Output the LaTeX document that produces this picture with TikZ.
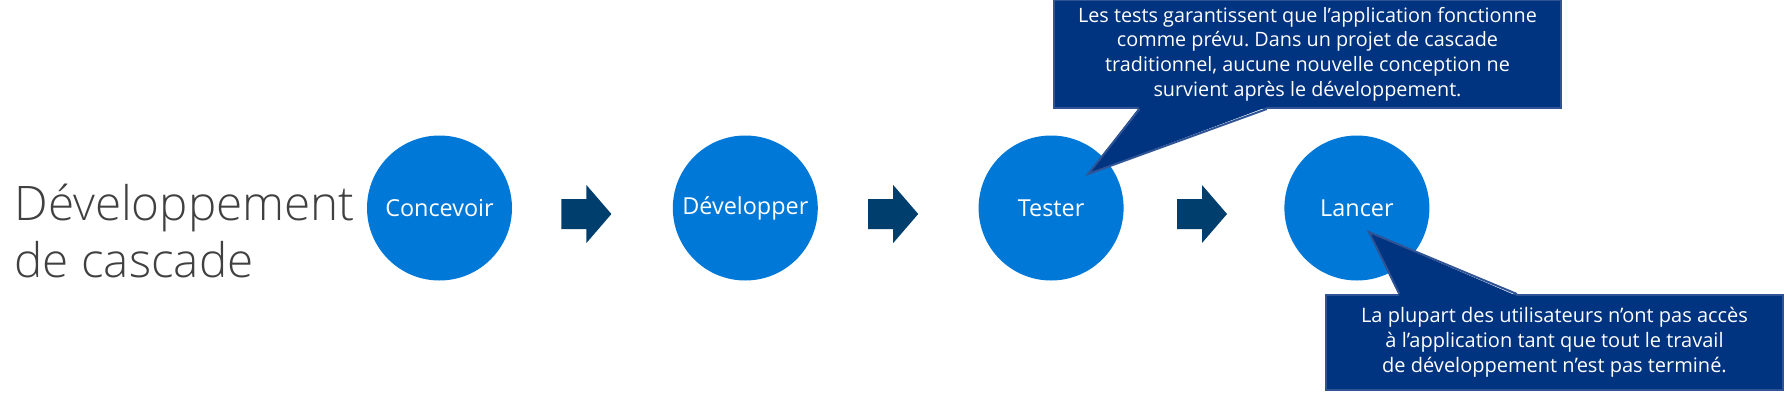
\documentclass[tikz,border=0pt]{standalone}
\usepackage{fontspec}
\setmainfont{Open Sans}
\IfFontExistsTF{Open Sans Light}{\newfontfamily\titrefont{Open Sans Light}}{\newfontfamily\titrefont{Open Sans}}
\usetikzlibrary{positioning,calc}
\frenchspacing

\definecolor{bleuetape}{RGB}{0,120,215}
\definecolor{bleufleche}{RGB}{0,62,110}
\definecolor{fondbulle}{RGB}{0,51,128}
\definecolor{bordbulle}{RGB}{47,84,150}
\definecolor{gristitre}{RGB}{64,64,64}

\tikzset{
  etape/.style={circle, fill=bleuetape, text=white, minimum size=72.5pt, inner sep=0pt,
    font=\fontsize{11.7}{14}\selectfont},
  fleche/.style={fill=bleufleche},
  bulle/.style={fill=fondbulle, draw=bordbulle, line width=1pt, text=white, align=center,
    inner sep=0pt},
  bordpointe/.style={draw=bordbulle, line width=1pt},
}

\begin{document}
\begin{tikzpicture}[x=0.5pt,y=-0.5pt,node distance=80pt]
\useasboundingbox (0,0) rectangle (1784,402);
\node[anchor=base west, align=left, text=gristitre, inner sep=0pt,
  font=\titrefont\fontsize{23.8}{28.5}\selectfont] (titre) at (14,277) {Développement\\de cascade};
\node[etape] (conc) at (439.5,208) {Concevoir};
\node[etape] (dev) [right=of conc] {Développer};
\node[etape] (test) [right=of dev] {Tester};
\node[etape] (lanc) [right=of test] {Lancer};
% flèches entre les étapes
\foreach \a/\b/\d in {conc/dev/-6,dev/test/-5,test/lanc/-2}
  \fill[fleche] ($(\a)!0.5!(\b)+(\d-25,-9)$) -- ++(25,0) -- ++(0,-14) -- ++(25,29)
    -- ++(-25,29) -- ++(0,-14) -- ++(-25,0) -- cycle;
% bulle au-dessus de Tester
\node[bulle, minimum width=253.5pt, minimum height=54pt, font=\fontsize{9.9}{12.3}\selectfont] (note1) at (1307.5,54)
  {Les tests garantissent que l’application fonctionne\\comme prévu. Dans un projet de cascade\\traditionnel, aucune nouvelle conception ne\\survient après le développement.};
\coordinate (pointe1) at ($(test)+(37,-34)$);
\path ($(note1.south west)!0.17!(note1.south east)$) coordinate (n1a)
      ($(note1.south west)!0.42!(note1.south east)$) coordinate (n1b);
\fill[fondbulle] ($(n1a)+(0,-2)$) -- (pointe1) -- ($(n1b)+(0,-2)$) -- cycle;
\draw[bordpointe] (n1a) -- (pointe1) -- (n1b);
% bulle sous Lancer
\node[bulle, minimum width=228.5pt, minimum height=47.5pt, font=\fontsize{10}{12.5}\selectfont] (note2) at (1554.5,342.5)
  {La plupart des utilisateurs n’ont pas accès\\à l’application tant que tout le travail\\de développement n’est pas terminé.};
\coordinate (pointe2) at ($(lanc)+(12,24)$);
\path ($(note2.north west)!0.162!(note2.north east)$) coordinate (n2a)
      ($(note2.north west)!0.418!(note2.north east)$) coordinate (n2b);
\fill[fondbulle] ($(n2a)+(0,2)$) -- (pointe2) -- ($(n2b)+(0,2)$) -- cycle;
\draw[bordpointe] (n2a) -- (pointe2) -- (n2b);
\end{tikzpicture}
\end{document}
